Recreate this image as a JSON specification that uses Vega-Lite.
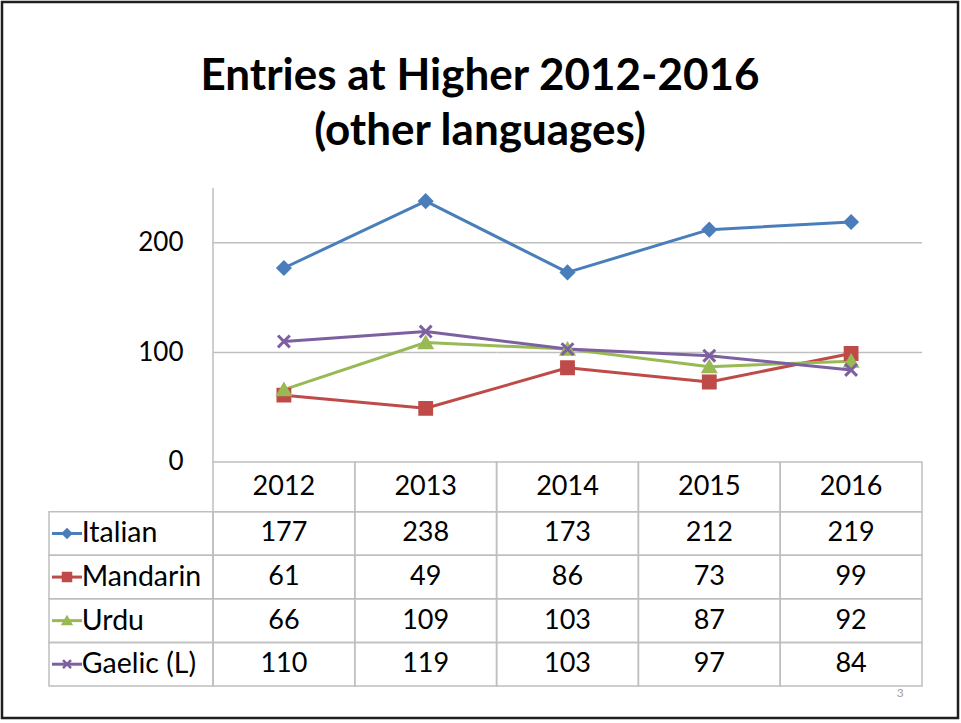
{
  "$schema": "https://vega.github.io/schema/vega-lite/v6.json",
  "autosize": "none",
  "width": 956,
  "height": 716,
  "padding": {"left": 2, "top": 2, "right": 3, "bottom": 5},
  "background": "white",
  "config": {
    "font": "Lato",
    "view": {"stroke": "#1f1f1f", "strokeWidth": 2.5}
  },
  "title": {
    "text": ["Entries at Higher 2012-2016", "(other languages)"],
    "font": "Lato",
    "fontSize": 44,
    "fontWeight": "bold",
    "color": "black",
    "anchor": "middle",
    "frame": "group",
    "offset": -152,
    "baseline": "top",
    "lineHeight": 55
  },
  "datasets": {
    "entries": [
      {"series": "Italian", "year": "2012", "value": 177},
      {"series": "Italian", "year": "2013", "value": 238},
      {"series": "Italian", "year": "2014", "value": 173},
      {"series": "Italian", "year": "2015", "value": 212},
      {"series": "Italian", "year": "2016", "value": 219},
      {"series": "Mandarin", "year": "2012", "value": 61},
      {"series": "Mandarin", "year": "2013", "value": 49},
      {"series": "Mandarin", "year": "2014", "value": 86},
      {"series": "Mandarin", "year": "2015", "value": 73},
      {"series": "Mandarin", "year": "2016", "value": 99},
      {"series": "Urdu", "year": "2012", "value": 66},
      {"series": "Urdu", "year": "2013", "value": 109},
      {"series": "Urdu", "year": "2014", "value": 103},
      {"series": "Urdu", "year": "2015", "value": 87},
      {"series": "Urdu", "year": "2016", "value": 92},
      {"series": "Gaelic (L)", "year": "2012", "value": 110},
      {"series": "Gaelic (L)", "year": "2013", "value": 119},
      {"series": "Gaelic (L)", "year": "2014", "value": 103},
      {"series": "Gaelic (L)", "year": "2015", "value": 97},
      {"series": "Gaelic (L)", "year": "2016", "value": 84}
    ],
    "years": [
      {"year": "2012"}, {"year": "2013"}, {"year": "2014"}, {"year": "2015"}, {"year": "2016"}
    ],
    "series": [
      {"series": "Italian"}, {"series": "Mandarin"}, {"series": "Urdu"}, {"series": "Gaelic (L)"}
    ]
  },
  "resolve": {"scale": {"x": "independent", "y": "independent"}},
  "layer": [
    {
      "layer": [
        {
          "data": {"name": "years"},
          "mark": {"type": "rect", "filled": false, "color": "#BFBFBF", "strokeWidth": 1.5},
          "encoding": {
            "x": {"field": "year", "type": "nominal", "axis": null, "scale": {"type": "band", "domain": ["2012", "2013", "2014", "2015", "2016"], "paddingInner": 0, "paddingOuter": 0.87094, "align": 0.85425}},
            "y": {"datum": 200, "type": "quantitative", "scale": {"domain": [-233.578, 419.706], "nice": false, "zero": false}, "axis": {"orient": "left", "offset": -211, "values": [0, 100, 200], "domain": false, "ticks": false, "tickSize": 0, "grid": false, "labelFontSize": 26, "labelFont": "Lato", "labelColor": "black", "labelPadding": 30, "title": null}},
            "y2": {"datum": 200}
          }
        },
        {
          "data": {"name": "years"},
          "mark": {"type": "rect", "filled": false, "color": "#BFBFBF", "strokeWidth": 1.5},
          "encoding": {
            "x": {"field": "year", "type": "nominal", "axis": null},
            "y": {"datum": 100, "type": "quantitative"},
            "y2": {"datum": 100}
          }
        },
        {
          "data": {"values": [{}]},
          "mark": {"type": "rule", "color": "#BFBFBF", "strokeWidth": 1.5},
          "encoding": {
            "x": {"datum": "2012", "type": "nominal", "bandPosition": 0, "axis": null},
            "y": {"datum": 0, "type": "quantitative"},
            "y2": {"datum": 250}
          }
        },
        {
          "data": {"name": "entries"},
          "mark": {"type": "line", "strokeWidth": 3, "strokeJoin": "round"},
          "encoding": {
            "x": {"field": "year", "type": "nominal", "axis": null},
            "y": {"field": "value", "type": "quantitative"},
            "color": {"field": "series", "type": "nominal", "legend": null, "scale": {"domain": ["Italian", "Mandarin", "Urdu", "Gaelic (L)"], "range": ["#4A7EBB", "#BE4B48", "#98B954", "#7D60A0"]}}
          }
        },
        {
          "data": {"name": "entries"},
          "mark": {"type": "point", "filled": true, "size": 140, "strokeWidth": 3, "opacity": 1},
          "encoding": {
            "x": {"field": "year", "type": "nominal", "axis": null},
            "y": {"field": "value", "type": "quantitative"},
            "color": {"field": "series", "type": "nominal", "legend": null},
            "stroke": {"field": "series", "type": "nominal", "legend": null, "scale": {"domain": ["Italian", "Mandarin", "Urdu", "Gaelic (L)"], "range": ["#4A7EBB", "#BE4B48", "#98B954", "#7D60A0"]}},
            "shape": {"field": "series", "type": "nominal", "legend": null, "scale": {"domain": ["Italian", "Mandarin", "Urdu", "Gaelic (L)"], "range": ["diamond", "square", "triangle-up", "M-1,-1L1,1M-1,1L1,-1"]}}
          }
        }
      ]
    },
    {
      "layer": [
        {
          "data": {"name": "years"},
          "mark": {"type": "rect", "filled": false, "color": "#BFBFBF", "strokeWidth": 1.5},
          "encoding": {
            "x": {"field": "year", "type": "nominal", "axis": null, "scale": {"type": "band", "domain": ["2012", "2013", "2014", "2015", "2016"], "paddingInner": 0, "paddingOuter": 0.87094, "align": 0.85425}},
            "y": {"datum": "Year", "type": "nominal", "axis": null, "scale": {"type": "band", "domain": ["Year"], "range": [460, 509.7], "paddingInner": 0, "paddingOuter": 0}}
          }
        },
        {
          "data": {"name": "years"},
          "mark": {"type": "text", "fontSize": 27, "font": "Lato", "color": "black", "baseline": "middle"},
          "encoding": {
            "x": {"field": "year", "type": "nominal", "axis": null},
            "y": {"datum": "Year", "type": "nominal", "axis": null},
            "text": {"field": "year"}
          }
        }
      ]
    },
    {
      "layer": [
        {
          "data": {"name": "entries"},
          "mark": {"type": "rect", "filled": false, "color": "#BFBFBF", "strokeWidth": 1.5},
          "encoding": {
            "x": {"field": "year", "type": "nominal", "axis": null, "scale": {"type": "band", "domain": ["2012", "2013", "2014", "2015", "2016"], "paddingInner": 0, "paddingOuter": 0.87094, "align": 0.85425}},
            "y": {"field": "series", "type": "nominal", "axis": null, "scale": {"type": "band", "domain": ["Italian", "Mandarin", "Urdu", "Gaelic (L)"], "range": [509.7, 684], "paddingInner": 0, "paddingOuter": 0}}
          }
        },
        {
          "data": {"name": "entries"},
          "mark": {"type": "text", "fontSize": 27, "font": "Lato", "color": "black", "baseline": "middle"},
          "encoding": {
            "x": {"field": "year", "type": "nominal", "axis": null},
            "y": {"field": "series", "type": "nominal", "axis": null},
            "text": {"field": "value"}
          }
        },
        {
          "data": {"values": [{"page": "3"}]},
          "mark": {"type": "text", "fontSize": 12, "font": "Lato", "color": "#A0A0A0", "baseline": "top", "dy": 2},
          "encoding": {
            "x": {"datum": "2016", "type": "nominal", "bandPosition": 0.846, "axis": null},
            "y": {"datum": "Gaelic (L)", "type": "nominal", "bandPosition": 1, "axis": null},
            "text": {"field": "page"}
          }
        }
      ]
    },
    {
      "layer": [
        {
          "data": {"name": "series"},
          "mark": {"type": "rect", "filled": false, "color": "#BFBFBF", "strokeWidth": 1.5},
          "encoding": {
            "x": {"datum": "key", "type": "nominal", "axis": null, "scale": {"type": "band", "domain": ["key"], "range": [47, 211], "paddingInner": 0, "paddingOuter": 0}},
            "y": {"field": "series", "type": "nominal", "axis": null, "scale": {"type": "band", "domain": ["Italian", "Mandarin", "Urdu", "Gaelic (L)"], "range": [509.7, 684], "paddingInner": 0, "paddingOuter": 0}}
          }
        },
        {
          "data": {"name": "series"},
          "mark": {"type": "point", "shape": "stroke", "size": 900, "strokeWidth": 3, "filled": false, "opacity": 1},
          "encoding": {
            "x": {"datum": "key", "type": "nominal", "bandPosition": 0.1098, "axis": null},
            "y": {"field": "series", "type": "nominal", "axis": null},
            "color": {"field": "series", "type": "nominal", "legend": null}
          }
        },
        {
          "data": {"name": "series"},
          "mark": {"type": "point", "filled": true, "size": 64, "strokeWidth": 2.5, "opacity": 1},
          "encoding": {
            "x": {"datum": "key", "type": "nominal", "bandPosition": 0.1098, "axis": null},
            "y": {"field": "series", "type": "nominal", "axis": null},
            "color": {"field": "series", "type": "nominal", "legend": null},
            "stroke": {"field": "series", "type": "nominal", "legend": null},
            "shape": {"field": "series", "type": "nominal", "legend": null}
          }
        },
        {
          "data": {"name": "series"},
          "mark": {"type": "text", "fontSize": 28.5, "font": "Lato", "color": "black", "align": "left", "baseline": "middle"},
          "encoding": {
            "x": {"datum": "key", "type": "nominal", "bandPosition": 0.2, "axis": null},
            "y": {"field": "series", "type": "nominal", "axis": null},
            "text": {"field": "series"}
          }
        }
      ]
    }
  ]
}
